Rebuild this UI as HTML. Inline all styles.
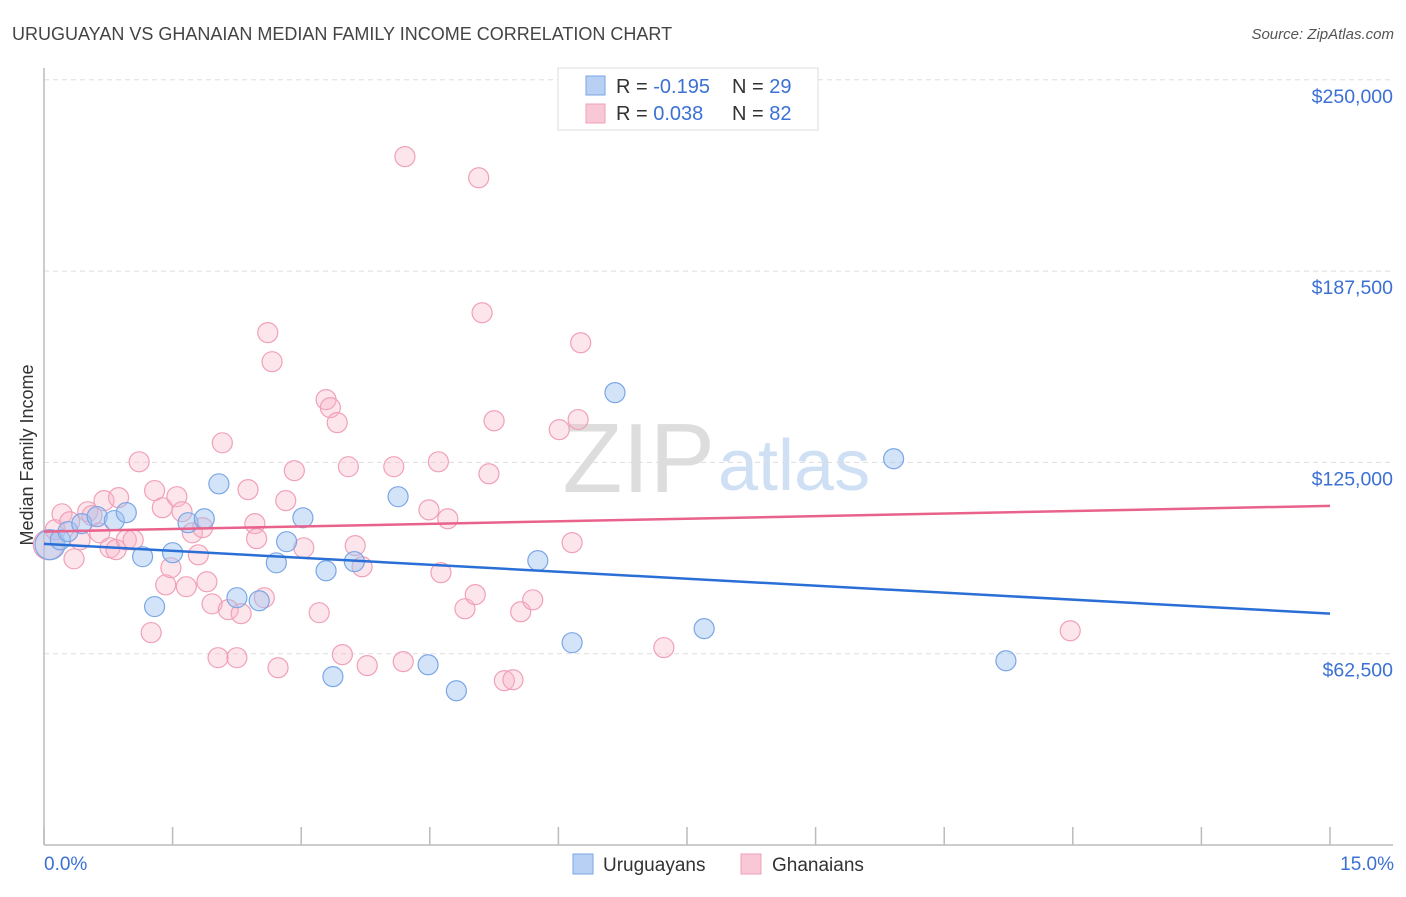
<!DOCTYPE html>
<html><head><meta charset="utf-8">
<style>
body{margin:0;background:#fff;font-family:"Liberation Sans",sans-serif;}
svg text{font-family:"Liberation Sans",sans-serif;}
</style></head>
<body>
<svg id="chart" width="1406" height="892" viewBox="0 0 1406 892">
<text x="12" y="40" font-size="18" fill="#444">URUGUAYAN VS GHANAIAN MEDIAN FAMILY INCOME CORRELATION CHART</text>
<text x="1394" y="39" font-size="15" fill="#555" font-style="italic" text-anchor="end">Source: ZipAtlas.com</text>
<text x="33" y="455" font-size="18" fill="#333" text-anchor="middle" transform="rotate(-90 33 455)">Median Family Income</text>
<text x="715" y="492" font-size="98" fill="#ddd" text-anchor="end" font-family="Liberation Serif">ZIP</text>
<text x="718" y="490" font-size="72" fill="#cfe0f5">atlas</text>
<g id="grid"></g>
<g id="ticks"></g>
<g id="marks"></g>
<g>
<rect x="558" y="68" width="260" height="62" fill="#fff" stroke="#ddd"/>
<rect x="586" y="76" width="19" height="19" fill="#b7d0f3" stroke="#7aa6e6"/>
<rect x="586" y="104" width="19" height="19" fill="#f9c8d6" stroke="#f0a0b8"/>
<text x="616" y="93" font-size="20" fill="#333">R = <tspan fill="#3b70d4">-0.195</tspan></text>
<text x="732" y="93" font-size="20" fill="#333">N = <tspan fill="#3b70d4">29</tspan></text>
<text x="616" y="120" font-size="20" fill="#333">R = <tspan fill="#3b70d4"> 0.038</tspan></text>
<text x="732" y="120" font-size="20" fill="#333">N = <tspan fill="#3b70d4">82</tspan></text>
</g>
<g>
<rect x="573" y="854" width="20" height="20" fill="#b7d0f3" stroke="#7aa6e6"/>
<text x="603" y="871" font-size="19" fill="#333">Uruguayans</text>
<rect x="741" y="854" width="20" height="20" fill="#f9c8d6" stroke="#f0a0b8"/>
<text x="772" y="871" font-size="19" fill="#333">Ghanaians</text>
</g>
<text x="44" y="870" font-size="19" fill="#3b70d4">0.0%</text>
<text x="1394" y="870" font-size="19" fill="#3b70d4" text-anchor="end">15.0%</text>
</svg>
<script>
const yTicks=[62500,125000,187500,250000];
const yTickLabels=["$62,500","$125,000","$187,500","$250,000"];
const xTickVals=[0,1.5,3,4.5,6,7.5,9,10.5,12,13.5,15];
const blueX=[0.07,0.19,0.28,0.44,0.62,0.82,0.96,1.15,1.29,1.50,1.68,1.87,2.04,2.25,2.51,2.71,2.83,3.02,3.29,3.37,3.62,4.13,4.48,4.81,5.76,6.16,6.66,7.70,9.91,11.22];
const blueY=[98.1,99.7,102.4,105,107.3,106,108.6,94.2,77.9,95.5,105.3,106.6,118,80.8,79.8,92.2,99.1,106.9,89.6,55,92.6,113.8,58.9,50.4,92.9,66.1,147.8,70.7,126.2,60.2];
const pinkX=[0.05,0.13,0.21,0.30,0.35,0.42,0.51,0.56,0.65,0.70,0.77,0.84,0.87,0.96,1.04,1.11,1.25,1.29,1.38,1.42,1.48,1.55,1.61,1.66,1.73,1.80,1.85,1.90,1.96,2.03,2.08,2.15,2.25,2.30,2.38,2.46,2.48,2.57,2.61,2.66,2.73,2.82,2.92,3.03,3.21,3.29,3.34,3.42,3.48,3.55,3.63,3.71,3.77,4.08,4.19,4.21,4.49,4.60,4.63,4.71,4.91,5.03,5.07,5.11,5.19,5.25,5.37,5.47,5.56,5.70,6.01,6.16,6.23,6.26,7.23,11.97];
const pinkY=[98.1,103,108.2,105.6,93.5,99.7,108.9,107.6,102,112.5,97.1,96.5,113.5,99.7,99.7,125.2,69.4,115.8,110.2,85,90.6,113.8,108.9,84.4,102,94.8,103.7,86,78.8,61.2,131.4,76.9,61.2,75.6,116.1,105,100.1,80.8,167.4,157.9,57.9,112.5,122.3,97.1,75.9,145.5,142.9,138,62.2,123.6,97.8,90.9,58.6,123.6,59.9,224.9,109.5,125.2,89,106.6,77.2,81.8,218,173.9,121.3,138.6,53.7,54,76.2,80.1,135.7,98.8,139,164.1,64.5,70];
const blueTrend=[98.4,75.6];
const pinkTrend=[102.4,110.8];
const NS="http://www.w3.org/2000/svg";
const xs=v=>44+v/15*1286;
const ys=v=>845-v/62500*191.3;
const yk=v=>ys(v*1000);
function mk(tag,attrs,parent){const e=document.createElementNS(NS,tag);for(const k in attrs)e.setAttribute(k,attrs[k]);parent.appendChild(e);return e;}
const grid=document.getElementById('grid'),ticks=document.getElementById('ticks'),marks=document.getElementById('marks');
yTicks.forEach((t,i)=>{
 const l=mk('line',{x1:44,x2:1393,y1:ys(t),y2:ys(t),stroke:'#ddd','stroke-dasharray':'5,4'},grid);
 
 
 const tx=mk('text',{x:1393,y:ys(t)+23,'font-size':19.5,fill:'#3b70d4','text-anchor':'end'},grid);
 tx.textContent=yTickLabels[i];
 
 
});
const ax=mk('line',{x1:44,x2:44,y1:68,y2:845,stroke:'#bbb','stroke-width':1.5},ticks);


const bx=mk('line',{x1:44,x2:1393,y1:845,y2:845,stroke:'#bbb','stroke-width':1.5},ticks);


xTickVals.forEach(v=>{
 const t=mk('line',{x1:xs(v),x2:xs(v),y1:827,y2:845,stroke:'#bbb','stroke-width':1.5},ticks);
 
 
});
function pts(X,Y,fill,stroke,name){
 X.forEach((x,i)=>{
  const r=i===0?15:10;
  const c=mk('circle',{cx:xs(x),cy:yk(Y[i]),r:r,fill:fill,stroke:stroke,'stroke-width':1.2},marks);
  
  
 });
}
pts(pinkX,pinkY,'rgba(248,180,200,0.35)','#f0a0b8','ghanaian-point');
pts(blueX,blueY,'rgba(160,195,240,0.45)','#7aa6e6','uruguayan-point');
const bl=mk('line',{x1:xs(0),y1:yk(blueTrend[0]),x2:xs(15),y2:yk(blueTrend[1]),stroke:'#2a6fd6','stroke-width':2.5},marks);


const pl=mk('line',{x1:xs(0),y1:yk(pinkTrend[0]),x2:xs(15),y2:yk(pinkTrend[1]),stroke:'#e8628c','stroke-width':2.5},marks);


</script>
</body></html>
